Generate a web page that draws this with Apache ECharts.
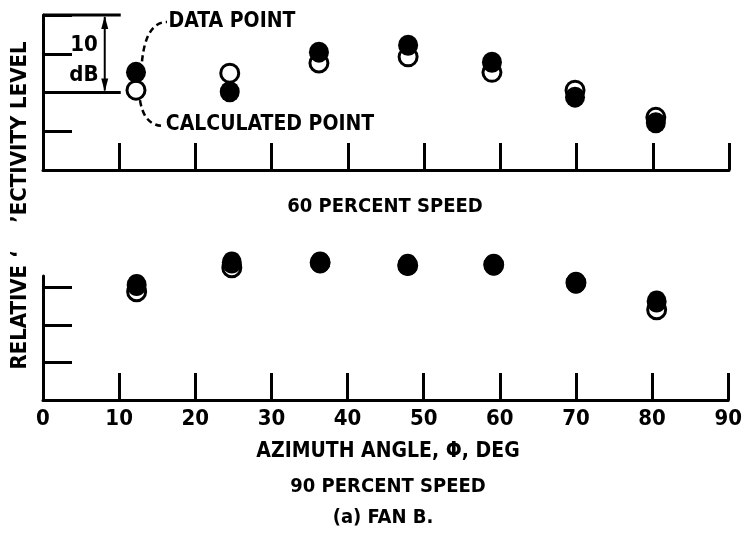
<!DOCTYPE html>
<html>
<head>
<meta charset="utf-8">
<script src="https://cdn.jsdelivr.net/npm/echarts@6/dist/echarts.min.js"></script>
<style>html,body{margin:0;padding:0;background:#fff;}#c{width:745px;height:545px;}</style>
</head>
<body>
<div id="c"></div>
<script>
// ---- data ----
const xTicks = [0, 10, 20, 30, 40, 50, 60, 70, 80, 90];
const angles60 = [12.2, 24.5, 36.2, 47.9, 58.9, 69.8, 80.4];
const level60Data = [12.6, 10.1, 15.2, 16.1, 13.9, 9.4, 6.1];
const level60Calc = [10.3, 12.5, 13.8, 14.6, 12.6, 10.3, 6.8];
const angles90 = [12.3, 24.8, 36.4, 47.9, 59.2, 70.0, 80.6];
const level90Data = [15.3, 18.3, 18.3, 18.0, 18.0, 15.6, 13.1];
const level90Calc = [14.4, 17.6, 18.3, 17.9, 18.0, 15.6, 12.0];

const FONT = "'Liberation Sans Narrow', 'DejaVu Sans Condensed', sans-serif";
const pairs = (xs, ys) => xs.map((x, i) => [x, ys[i]]);

const chart = echarts.init(document.getElementById('c'), null, {renderer: 'canvas'});

function xAxisCfg(gi, showLabels) {
  return {
    type: 'value', gridIndex: gi, min: 0, max: 90, interval: 10,
    axisLine: {show: true, onZero: false, lineStyle: {color: '#000', width: 3}},
    axisTick: {show: true, inside: true, length: 27, lineStyle: {color: '#000', width: 3}},
    axisLabel: {show: showLabels, color: '#000', fontFamily: FONT, fontWeight: 'bold', fontSize: 22, margin: 8,
      formatter: v => xTicks.indexOf(v) >= 0 ? String(v) : ''},
    splitLine: {show: false}
  };
}
function yAxisCfg(gi, max, ticks) {
  return {
    type: 'value', gridIndex: gi, min: 0, max: max, interval: 5,
    axisLine: {show: true, onZero: false, lineStyle: {color: '#000', width: 3}},
    axisTick: {show: true, inside: true, length: 29, customValues: ticks, lineStyle: {color: '#000', width: 3}},
    axisLabel: {show: false},
    splitLine: {show: false}
  };
}
const calcStyle = {color: '#fff', borderColor: '#000', borderWidth: 3, opacity: 1};
const dataStyle = {color: '#000', opacity: 1};

chart.setOption({
  animation: false,
  backgroundColor: '#fff',
  grid: [
    {left: 43, width: 686, top: 15, height: 155},
    {left: 43, width: 686, top: 276, height: 124}
  ],
  xAxis: [xAxisCfg(0, false), xAxisCfg(1, true)],
  yAxis: [yAxisCfg(0, 20, [5, 10, 15, 20]), yAxisCfg(1, 16.5, [5, 10, 15])],
  series: [
    {type: 'scatter', name: 'CALCULATED POINT', xAxisIndex: 0, yAxisIndex: 0, data: pairs(angles60, level60Calc),
      symbol: 'circle', symbolSize: 18, itemStyle: calcStyle, clip: false, z: 3},
    {type: 'scatter', name: 'DATA POINT', xAxisIndex: 0, yAxisIndex: 0, data: pairs(angles60, level60Data),
      symbol: 'circle', symbolSize: [20, 21], itemStyle: dataStyle, clip: false, z: 4},
    {type: 'scatter', name: 'CALCULATED POINT', xAxisIndex: 1, yAxisIndex: 1, data: pairs(angles90, level90Calc),
      symbol: 'circle', symbolSize: 18, itemStyle: calcStyle, clip: false, z: 3},
    {type: 'scatter', name: 'DATA POINT', xAxisIndex: 1, yAxisIndex: 1, data: pairs(angles90, level90Data),
      symbol: 'circle', symbolSize: [20, 22], itemStyle: dataStyle, clip: false, z: 4}
  ]
});

// ---- annotations, anchored through the axes ----
const P = (x, y) => chart.convertToPixel({gridIndex: 0}, [x, y]);
const txt = (s, x, y, size, extra) => Object.assign({
  type: 'text', x: x, y: y, z: 10,
  style: {text: s, fill: '#000', font: 'bold ' + size + 'px ' + FONT, align: 'center', verticalAlign: 'middle'}
}, extra || {});
const lineSt = {stroke: '#000', lineWidth: 3};

const a20 = P(0, 20), b20 = P(10.2, 20);
const a10 = P(0, 10), b10 = P(10.2, 10);
const arrX = P(8.1, 20)[0];
const dp = P(angles60[0], level60Data[0]);
const cp = P(angles60[0], level60Calc[0]);

const g = [
  {type: 'line', z: 10, shape: {x1: a20[0], y1: a20[1], x2: b20[0], y2: b20[1]}, style: lineSt},
  {type: 'line', z: 10, shape: {x1: a10[0], y1: a10[1], x2: b10[0], y2: b10[1]}, style: lineSt},
  {type: 'line', z: 10, shape: {x1: arrX, y1: a20[1] + 2, x2: arrX, y2: a10[1] - 2}, style: {stroke: '#000', lineWidth: 2}},
  {type: 'polygon', z: 10, shape: {points: [[arrX, a20[1] + 1], [arrX - 3.5, a20[1] + 14], [arrX + 3.5, a20[1] + 14]]}, style: {fill: '#000'}},
  {type: 'polygon', z: 10, shape: {points: [[arrX, a10[1] - 1], [arrX - 3.5, a10[1] - 14], [arrX + 3.5, a10[1] - 14]]}, style: {fill: '#000'}},
  txt('10', 84, 45, 22),
  txt('dB', 84, 75, 22),
  // DATA POINT leader
  {type: 'bezierCurve', z: 10, shape: {x1: dp[0] + 6, y1: dp[1] - 11, x2: 167, y2: 22, cpx1: dp[0] + 10, cpy1: 22},
    style: {stroke: '#000', lineWidth: 2.5, lineDash: [6, 4], fill: null}},
  txt('DATA POINT', 232, 22, 21),
  // CALCULATED POINT leader
  {type: 'bezierCurve', z: 10, shape: {x1: cp[0] + 4, y1: cp[1] + 10, x2: 164, y2: 126, cpx1: cp[0] + 8, cpy1: 126},
    style: {stroke: '#000', lineWidth: 2.5, lineDash: [6, 4], fill: null}},
  txt('CALCULATED POINT', 270, 125, 21),
  txt('60 PERCENT SPEED', 385, 207, 20),
  txt('AZIMUTH ANGLE, \u03A6, DEG', 388, 452, 21),
  txt('90 PERCENT SPEED', 388, 487, 20),
  txt('(a) FAN B.', 383, 518, 20),
  txt('RELATIVE \u2018', 20, 310, 22, {rotation: Math.PI / 2}),
  txt('\u2019ECTIVITY LEVEL', 20, 132, 22, {rotation: Math.PI / 2})
];
chart.setOption({graphic: {elements: g}});
</script>
</body>
</html>
